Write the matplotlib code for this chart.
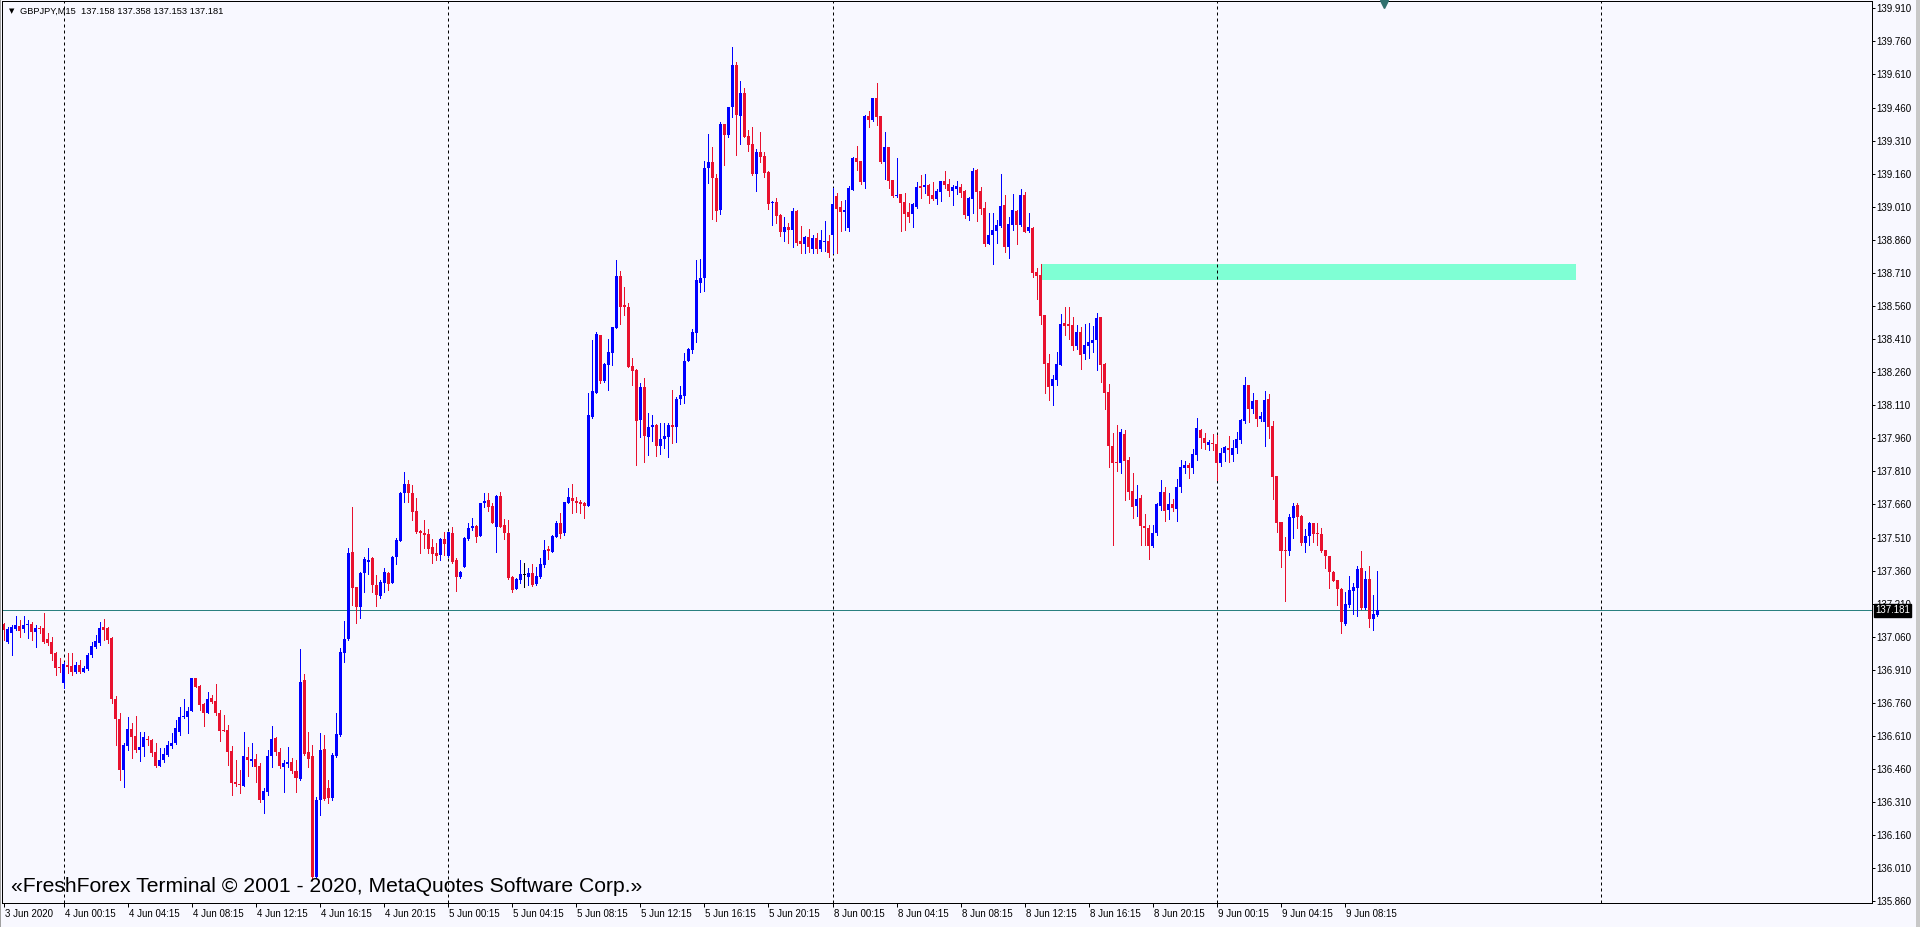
import numpy as np
import matplotlib
matplotlib.use('Agg')
import matplotlib.pyplot as plt
from matplotlib.patches import Rectangle
from matplotlib.transforms import blended_transform_factory, ScaledTranslation

# GBPJPY M15 bars, 3 Jun 20:30 -> 9 Jun 10:15 (bar index 0..343)
opens = [
    137.118, 137.038, 137.076, 137.094, 137.109, 137.094, 137.112, 137.118, 137.083, 137.098,  # 0
    137.098, 137.049, 137.038, 136.985, 136.922, 136.849, 136.932, 136.929, 136.902, 136.932,  # 10
    136.902, 136.913, 136.978, 137.015, 137.033, 137.103, 137.098, 137.053, 136.776, 136.686,  # 20
    136.456, 136.565, 136.640, 136.610, 136.547, 136.562, 136.595, 136.592, 136.539, 136.476,  # 30
    136.501, 136.524, 136.565, 136.577, 136.630, 136.695, 136.698, 136.724, 136.872, 136.838,  # 40
    136.754, 136.716, 136.781, 136.770, 136.713, 136.637, 136.637, 136.544, 136.403, 136.393,  # 50
    136.385, 136.514, 136.498, 136.504, 136.474, 136.320, 136.358, 136.517, 136.600, 136.539,  # 60
    136.471, 136.484, 136.494, 136.449, 136.415, 136.864, 136.536, 136.517, 135.972, 136.320,  # 70
    136.551, 136.373, 136.328, 136.517, 136.615, 136.988, 137.048, 137.444, 137.284, 137.193,  # 80
    137.348, 137.401, 137.416, 137.295, 137.246, 137.305, 137.351, 137.302, 137.420, 137.496,  # 90
    137.710, 137.753, 137.713, 137.630, 137.541, 137.532, 137.526, 137.469, 137.441, 137.431,  # 100
    137.502, 137.426, 137.532, 137.408, 137.329, 137.378, 137.502, 137.552, 137.564, 137.517,  # 110
    137.665, 137.680, 137.655, 137.559, 137.698, 137.567, 137.532, 137.333, 137.277, 137.317,  # 120
    137.342, 137.333, 137.351, 137.298, 137.329, 137.385, 137.456, 137.446, 137.514, 137.577,  # 130
    137.529, 137.668, 137.691, 137.677, 137.673, 137.668, 137.653, 138.058, 138.167, 138.428,  # 140
    138.220, 138.292, 138.348, 138.459, 138.696, 138.564, 138.557, 138.288, 138.270, 138.043,  # 150
    138.194, 137.967, 138.010, 138.020, 137.927, 137.955, 137.967, 138.020, 138.010, 138.137,  # 160
    138.153, 138.311, 138.360, 138.439, 138.666, 138.685, 139.184, 139.211, 139.139, 138.995,  # 170
    139.385, 139.335, 139.464, 139.653, 139.421, 139.527, 139.331, 139.294, 139.158, 139.258,  # 180
    139.240, 139.169, 139.025, 139.031, 138.971, 138.895, 138.918, 138.904, 138.991, 138.854,  # 190
    138.841, 138.871, 138.818, 138.868, 138.818, 138.850, 138.854, 138.882, 139.060, 139.007,  # 200
    138.988, 138.915, 139.086, 139.231, 139.217, 139.122, 139.421, 139.403, 139.503, 139.421,  # 210
    139.214, 139.279, 139.131, 139.059, 139.068, 139.031, 138.986, 138.978, 139.010, 139.105,  # 220
    139.101, 139.110, 139.065, 139.045, 139.078, 139.125, 139.113, 139.083, 139.090, 139.101,  # 230
    139.081, 138.969, 139.046, 139.176, 139.081, 139.003, 138.842, 138.880, 138.901, 138.924,  # 240
    139.018, 138.829, 138.927, 138.992, 138.927, 139.063, 138.900, 138.913, 138.712, 138.700,  # 250
    138.519, 138.300, 138.197, 138.225, 138.294, 138.483, 138.479, 138.474, 138.379, 138.442,  # 260
    138.343, 138.380, 138.394, 138.406, 138.509, 138.297, 138.170, 137.927, 137.853, 137.847,  # 270
    137.981, 137.862, 137.721, 137.653, 137.689, 137.564, 137.555, 137.472, 137.529, 137.653,  # 280
    137.717, 137.635, 137.662, 137.641, 137.741, 137.827, 137.841, 137.823, 137.882, 137.998,  # 290
    137.962, 137.930, 137.940, 137.934, 137.850, 137.892, 137.918, 137.884, 137.918, 137.953,  # 300
    138.039, 138.202, 138.092, 138.134, 138.048, 138.034, 138.138, 138.016, 137.791, 137.582,  # 310
    137.454, 137.449, 137.597, 137.656, 137.608, 137.484, 137.517, 137.575, 137.528, 137.526,  # 320
    137.454, 137.427, 137.354, 137.318, 137.275, 137.117, 137.204, 137.269, 137.280, 137.370,  # 330
    137.192, 137.322, 137.139, 137.158,                                                        # 340
]
highs = [
    137.121, 137.103, 137.114, 137.154, 137.136, 137.154, 137.136, 137.129, 137.114, 137.109,
    137.166, 137.076, 137.061, 136.993, 136.962, 136.947, 136.985, 136.988, 136.947, 136.955,
    136.928, 136.985, 137.038, 137.068, 137.127, 137.139, 137.106, 137.058, 136.789, 136.713,
    136.577, 136.698, 136.668, 136.701, 136.630, 136.630, 136.610, 136.595, 136.577, 136.554,
    136.554, 136.589, 136.622, 136.683, 136.740, 136.776, 136.743, 136.872, 136.872, 136.841,
    136.758, 136.811, 136.796, 136.846, 136.728, 136.705, 136.660, 136.565, 136.501, 136.456,
    136.630, 136.562, 136.577, 136.529, 136.486, 136.373, 136.547, 136.656, 136.604, 136.554,
    136.501, 136.562, 136.509, 136.501, 137.003, 136.891, 136.630, 136.569, 136.335, 136.622,
    136.615, 136.411, 136.532, 136.713, 137.008, 137.133, 137.464, 137.650, 137.287, 137.355,
    137.423, 137.461, 137.423, 137.340, 137.317, 137.370, 137.355, 137.426, 137.506, 137.718,
    137.809, 137.771, 137.748, 137.688, 137.544, 137.589, 137.547, 137.502, 137.484, 137.506,
    137.537, 137.537, 137.559, 137.416, 137.360, 137.511, 137.574, 137.597, 137.567, 137.668,
    137.710, 137.710, 137.665, 137.703, 137.718, 137.593, 137.589, 137.336, 137.325, 137.408,
    137.393, 137.370, 137.390, 137.378, 137.416, 137.499, 137.472, 137.521, 137.586, 137.620,
    137.673, 137.733, 137.751, 137.695, 137.680, 137.673, 138.167, 138.406, 138.444, 138.428,
    138.300, 138.409, 138.466, 138.769, 138.720, 138.648, 138.575, 138.323, 138.273, 138.209,
    138.235, 138.076, 138.066, 138.025, 138.031, 138.031, 138.028, 138.179, 138.149, 138.197,
    138.348, 138.368, 138.454, 138.769, 138.771, 139.219, 139.338, 139.279, 139.157, 139.394,
    139.385, 139.464, 139.736, 139.668, 139.580, 139.547, 139.358, 139.370, 139.270, 139.349,
    139.260, 139.170, 139.037, 139.049, 138.975, 138.962, 138.938, 139.003, 138.995, 138.922,
    138.877, 138.907, 138.883, 138.889, 138.904, 138.945, 138.880, 139.093, 139.071, 139.034,
    139.040, 139.104, 139.234, 139.285, 139.219, 139.427, 139.446, 139.503, 139.572, 139.421,
    139.349, 139.279, 139.131, 139.231, 139.068, 139.071, 139.028, 139.025, 139.124, 139.154,
    139.158, 139.113, 139.124, 139.090, 139.128, 139.172, 139.134, 139.108, 139.127, 139.113,
    139.086, 139.052, 139.184, 139.179, 139.098, 139.030, 138.980, 138.980, 138.950, 139.158,
    139.063, 138.965, 139.068, 138.995, 139.090, 139.078, 138.981, 138.920, 138.731, 138.749,
    138.519, 138.343, 138.249, 138.352, 138.524, 138.554, 138.554, 138.509, 138.474, 138.464,
    138.479, 138.482, 138.467, 138.527, 138.512, 138.300, 138.205, 137.982, 138.021, 138.001,
    137.998, 137.877, 137.801, 137.748, 137.703, 137.617, 137.567, 137.567, 137.665, 137.771,
    137.738, 137.714, 137.684, 137.774, 137.862, 137.857, 137.850, 137.913, 138.051, 138.001,
    137.982, 137.953, 137.980, 137.974, 137.915, 137.925, 137.971, 137.950, 137.989, 138.046,
    138.240, 138.202, 138.167, 138.134, 138.080, 138.175, 138.161, 138.037, 137.791, 137.582,
    137.511, 137.617, 137.665, 137.665, 137.612, 137.547, 137.582, 137.578, 137.575, 137.552,
    137.454, 137.427, 137.360, 137.318, 137.280, 137.265, 137.336, 137.303, 137.381, 137.451,
    137.360, 137.381, 137.250, 137.358,
]
lows = [
    137.046, 137.030, 136.978, 137.091, 137.058, 137.083, 137.053, 137.046, 137.012, 137.079,
    137.033, 137.023, 136.955, 136.887, 136.902, 136.826, 136.894, 136.887, 136.894, 136.894,
    136.902, 136.910, 136.970, 137.008, 137.023, 137.046, 137.030, 136.758, 136.569, 136.411,
    136.380, 136.547, 136.509, 136.539, 136.498, 136.517, 136.569, 136.517, 136.471, 136.476,
    136.494, 136.517, 136.554, 136.574, 136.615, 136.690, 136.625, 136.721, 136.834, 136.728,
    136.656, 136.716, 136.758, 136.705, 136.585, 136.634, 136.479, 136.343, 136.383, 136.353,
    136.385, 136.429, 136.474, 136.399, 136.312, 136.262, 136.343, 136.471, 136.524, 136.464,
    136.358, 136.471, 136.441, 136.358, 136.411, 136.524, 136.471, 135.957, 135.965, 136.252,
    136.320, 136.305, 136.320, 136.514, 136.610, 136.947, 137.045, 137.204, 137.121, 137.147,
    137.265, 137.345, 137.261, 137.200, 137.234, 137.261, 137.272, 137.302, 137.390, 137.496,
    137.673, 137.673, 137.589, 137.532, 137.438, 137.461, 137.441, 137.393, 137.408, 137.408,
    137.431, 137.423, 137.396, 137.269, 137.325, 137.378, 137.499, 137.544, 137.491, 137.517,
    137.650, 137.632, 137.574, 137.446, 137.556, 137.502, 137.320, 137.265, 137.275, 137.302,
    137.284, 137.295, 137.290, 137.295, 137.325, 137.378, 137.411, 137.446, 137.511, 137.506,
    137.521, 137.668, 137.620, 137.627, 137.620, 137.600, 137.653, 138.051, 138.167, 138.212,
    138.217, 138.179, 138.292, 138.459, 138.478, 138.519, 138.282, 138.202, 137.839, 137.967,
    137.854, 137.884, 137.949, 137.880, 137.889, 137.915, 137.877, 137.940, 137.945, 138.116,
    138.122, 138.309, 138.348, 138.398, 138.625, 138.629, 139.116, 138.954, 138.945, 138.977,
    139.199, 139.328, 139.418, 139.245, 139.294, 139.325, 139.264, 139.154, 139.083, 139.214,
    139.143, 139.001, 138.927, 138.935, 138.877, 138.854, 138.844, 138.826, 138.836, 138.799,
    138.802, 138.805, 138.799, 138.802, 138.811, 138.811, 138.783, 138.799, 138.802, 138.900,
    138.904, 138.901, 139.086, 139.176, 139.113, 139.095, 139.373, 139.399, 139.380, 139.207,
    139.134, 139.093, 139.052, 139.056, 138.900, 138.904, 138.941, 138.919, 139.004, 139.049,
    139.071, 139.027, 139.040, 139.022, 139.036, 139.093, 139.059, 139.018, 139.068, 139.056,
    138.957, 138.950, 138.983, 138.945, 138.977, 138.832, 138.841, 138.752, 138.847, 138.919,
    138.806, 138.779, 138.904, 138.839, 138.924, 138.894, 138.897, 138.693, 138.592, 138.478,
    138.167, 138.134, 138.111, 138.202, 138.294, 138.429, 138.411, 138.361, 138.367, 138.275,
    138.320, 138.323, 138.353, 138.270, 138.216, 138.095, 137.831, 137.476, 137.813, 137.801,
    137.680, 137.685, 137.597, 137.608, 137.476, 137.476, 137.413, 137.469, 137.522, 137.635,
    137.585, 137.593, 137.628, 137.585, 137.715, 137.801, 137.780, 137.804, 137.862, 137.915,
    137.910, 137.907, 137.907, 137.771, 137.835, 137.859, 137.851, 137.859, 137.892, 137.937,
    138.031, 138.036, 138.073, 138.016, 138.039, 137.925, 137.963, 137.683, 137.537, 137.378,
    137.222, 137.429, 137.510, 137.555, 137.476, 137.446, 137.476, 137.491, 137.476, 137.446,
    137.370, 137.280, 137.314, 137.204, 137.079, 137.114, 137.197, 137.162, 137.154, 137.185,
    137.185, 137.106, 137.091, 137.153,
]
closes = [
    137.091, 137.094, 137.106, 137.114, 137.088, 137.114, 137.118, 137.083, 137.098, 137.094,
    137.038, 137.030, 136.981, 136.917, 136.917, 136.937, 136.925, 136.902, 136.932, 136.902,
    136.917, 136.978, 137.018, 137.041, 137.098, 137.091, 137.046, 136.776, 136.686, 136.456,
    136.569, 136.640, 136.607, 136.547, 136.562, 136.604, 136.592, 136.532, 136.476, 136.501,
    136.529, 136.569, 136.580, 136.645, 136.698, 136.702, 136.725, 136.872, 136.834, 136.751,
    136.716, 136.778, 136.766, 136.713, 136.634, 136.634, 136.539, 136.396, 136.391, 136.388,
    136.517, 136.501, 136.504, 136.471, 136.320, 136.362, 136.517, 136.595, 136.539, 136.476,
    136.486, 136.494, 136.449, 136.418, 136.857, 136.529, 136.504, 135.972, 136.320, 136.547,
    136.325, 136.328, 136.524, 136.619, 136.993, 137.049, 137.441, 137.280, 137.193, 137.351,
    137.413, 137.408, 137.295, 137.249, 137.308, 137.352, 137.299, 137.423, 137.499, 137.713,
    137.753, 137.710, 137.627, 137.537, 137.529, 137.521, 137.458, 137.435, 137.426, 137.502,
    137.481, 137.537, 137.401, 137.329, 137.354, 137.506, 137.552, 137.564, 137.514, 137.668,
    137.677, 137.650, 137.577, 137.698, 137.559, 137.529, 137.325, 137.272, 137.322, 137.343,
    137.342, 137.351, 137.295, 137.336, 137.390, 137.453, 137.450, 137.517, 137.577, 137.526,
    137.673, 137.692, 137.677, 137.668, 137.662, 137.653, 138.066, 138.176, 138.433, 138.220,
    138.297, 138.353, 138.463, 138.696, 138.557, 138.554, 138.285, 138.267, 138.040, 138.194,
    137.970, 138.010, 138.020, 137.927, 137.957, 137.970, 138.020, 138.010, 138.138, 138.156,
    138.311, 138.365, 138.444, 138.678, 138.685, 139.184, 139.211, 139.139, 138.992, 139.385,
    139.335, 139.464, 139.653, 139.426, 139.527, 139.328, 139.290, 139.158, 139.258, 139.237,
    139.164, 139.022, 139.033, 138.968, 138.895, 138.918, 138.904, 138.991, 138.847, 138.841,
    138.874, 138.826, 138.870, 138.818, 138.859, 138.854, 138.802, 139.022, 138.999, 138.986,
    138.995, 139.095, 139.231, 139.214, 139.122, 139.421, 139.403, 139.503, 139.415, 139.211,
    139.281, 139.128, 139.059, 139.063, 139.028, 138.977, 138.965, 139.022, 139.101, 139.096,
    139.108, 139.060, 139.043, 139.081, 139.125, 139.108, 139.083, 139.101, 139.105, 139.074,
    138.972, 139.049, 139.173, 139.078, 139.001, 138.842, 138.880, 138.904, 138.927, 139.013,
    138.829, 138.932, 138.995, 138.927, 139.063, 138.897, 138.918, 138.711, 138.697, 138.514,
    138.297, 138.194, 138.229, 138.297, 138.479, 138.471, 138.470, 138.380, 138.442, 138.338,
    138.383, 138.397, 138.406, 138.507, 138.294, 138.167, 137.925, 137.850, 137.847, 137.990,
    137.859, 137.718, 137.650, 137.685, 137.563, 137.555, 137.472, 137.532, 137.661, 137.717,
    137.632, 137.662, 137.646, 137.741, 137.831, 137.841, 137.823, 137.889, 138.007, 137.962,
    137.937, 137.945, 137.934, 137.850, 137.892, 137.919, 137.907, 137.918, 137.956, 138.043,
    138.202, 138.092, 138.129, 138.048, 138.061, 138.134, 138.013, 137.786, 137.578, 137.451,
    137.451, 137.602, 137.653, 137.605, 137.484, 137.517, 137.575, 137.525, 137.525, 137.451,
    137.427, 137.352, 137.315, 137.275, 137.129, 137.209, 137.272, 137.284, 137.367, 137.189,
    137.322, 137.139, 137.163, 137.181,
]

symbol = 'GBPJPY,M15'
last_price = 137.181
# rectangle object (time in bar units, price)
zone_start, zone_end = 259, 392.6
zone_low, zone_high = 138.678, 138.751

time_tick_bars = [0, 15, 31, 47, 63, 79, 95, 111, 127, 143, 159, 175, 191,
                  207, 223, 239, 255, 271, 287, 303, 319, 335]
time_tick_labels = ['3 Jun 2020', '4 Jun 00:15', '4 Jun 04:15', '4 Jun 08:15',
                    '4 Jun 12:15', '4 Jun 16:15', '4 Jun 20:15', '5 Jun 00:15',
                    '5 Jun 04:15', '5 Jun 08:15', '5 Jun 12:15', '5 Jun 16:15',
                    '5 Jun 20:15', '8 Jun 00:15', '8 Jun 04:15', '8 Jun 08:15',
                    '8 Jun 12:15', '8 Jun 16:15', '8 Jun 20:15', '9 Jun 00:15',
                    '9 Jun 04:15', '9 Jun 08:15']
grid_bars = [15, 111, 207, 303, 399]
price_ticks = [135.860, 136.010, 136.160, 136.310, 136.460, 136.610, 136.760,
               136.910, 137.060, 137.210, 137.360, 137.510, 137.660, 137.810,
               137.960, 138.110, 138.260, 138.410, 138.560, 138.710, 138.860,
               139.010, 139.160, 139.310, 139.460, 139.610, 139.760, 139.910]

BG = '#F8F8FF'
BULL = '#0000FF'
BEAR = '#E8112F'
PX = 0.72  # one pixel in points at dpi 100
W, H = 1920, 927

plt.rcParams['font.family'] = ['Liberation Sans', 'DejaVu Sans']

fig = plt.figure(figsize=(W / 100, H / 100), dpi=100, facecolor=BG)
ax = fig.add_axes([2 / W, 24 / H, 1870 / W, 902 / H], facecolor=BG)

o = np.array(opens)
h = np.array(highs)
l = np.array(lows)
c = np.array(closes)
x = np.arange(len(o))

cols = np.where(c > o, BULL, np.where(c < o, BEAR, '#000000'))

# zone rectangle and separators behind the candles
ax.add_patch(Rectangle((zone_start, zone_low), zone_end - zone_start, zone_high - zone_low,
                       facecolor='#7FFFD4', edgecolor='none', zorder=0.3))
for b in grid_bars:
    ax.axvline(b, color='black', lw=PX, ls=(0, (3, 3)), zorder=0.5)

ax.axhline(last_price, color='#2A8080', lw=PX, zorder=1.2)

ax.vlines(x, l, h, colors=cols, lw=PX, zorder=2, antialiased=False)
body_low = np.minimum(o, c)
body_h = np.maximum(np.abs(c - o), 0.0045)
ax.bar(x, body_h, bottom=body_low, width=0.75, color=cols, linewidth=0,
       zorder=2.1, antialiased=False)

ax.set_xlim(-0.425, 466.6)
ax.set_ylim(135.8525, 139.9431)

# price axis on the right
ax.yaxis.tick_right()
ax.set_yticks(price_ticks)
ax.set_yticklabels(['%.3f' % p for p in price_ticks])
ax.tick_params(axis='y', direction='out', length=3 * PX, width=PX, pad=1.2,
               labelsize=7, colors='black')

# time axis
ax.set_xticks(time_tick_bars)
ax.set_xticklabels(time_tick_labels)
ax.tick_params(axis='x', direction='out', length=4 * PX, width=PX, pad=1.5,
               labelsize=7, colors='black')
off = ScaledTranslation(1 / 100, 0, fig.dpi_scale_trans)
for lab in ax.get_xticklabels():
    lab.set_horizontalalignment('left')
    lab.set_transform(lab.get_transform() + off)

for s in ax.spines.values():
    s.set_linewidth(PX)
    s.set_color('black')

# bid label on the price scale
yt = blended_transform_factory(ax.transAxes, ax.transData)
ax.text(1.0, last_price, '%.3f' % last_price, transform=yt + ScaledTranslation(3 / 100, 0, fig.dpi_scale_trans),
        ha='left', va='center', fontsize=7, color='white', zorder=10, clip_on=False,
        bbox=dict(boxstyle='square,pad=0.15', facecolor='black', edgecolor='black'))

# chart shift marker
xt = blended_transform_factory(ax.transData, ax.transAxes)
ax.plot([344.6], [1 - 3 / 902], marker='v', ms=6, color='#2F6F6F', transform=xt,
        clip_on=False, zorder=10)

# header and watermark
fig.text(12 / W, 1 - 11 / H, '▼', fontsize=5, family='DejaVu Sans', ha='center', va='center')
fig.text(20 / W, 1 - 11 / H, '%s  %.3f %.3f %.3f %.3f' % (symbol, opens[-1], highs[-1], lows[-1], closes[-1]),
         fontsize=6.7, ha='left', va='center')
fig.text(11 / W, (H - 892) / H, '«FreshForex Terminal © 2001 - 2020, MetaQuotes Software Corp.»',
         fontsize=15.2, ha='left', va='baseline')

# window frame
fig.patches.append(Rectangle((1916 / W, 0), 4 / W, 1, transform=fig.transFigure,
                             facecolor='#C8C8C8', edgecolor='none'))
fig.patches.append(Rectangle((0, 0), 1 / W, 1, transform=fig.transFigure,
                             facecolor='#A0A0A0', edgecolor='none'))

fig.savefig('out.png', dpi=100, facecolor=BG)
